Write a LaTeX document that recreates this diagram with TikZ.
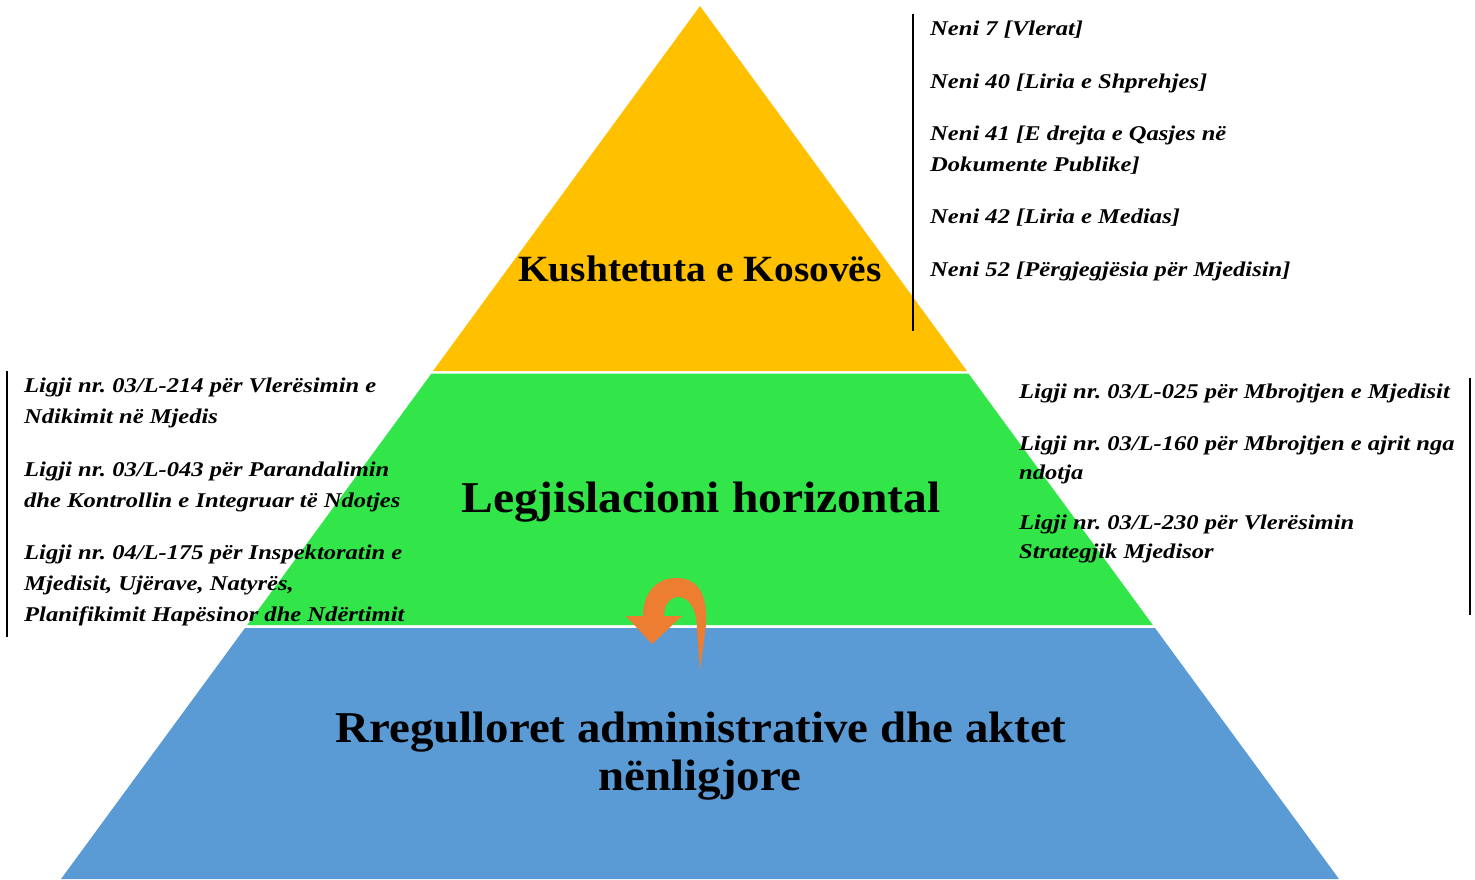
\documentclass[tikz,border=0pt]{standalone}
\usepackage{fontspec}
\setmainfont{Liberation Serif}
\newfontfamily\lawfont[FakeStretch=1.17]{Liberation Serif}
\newfontfamily\titlefont[FakeStretch=1.065]{Liberation Serif}
\newfontfamily\titlefontb[FakeStretch=1.08]{Liberation Serif}
\definecolor{pyryellow}{RGB}{255,192,0}
\definecolor{pyrgreen}{RGB}{50,230,74}
\definecolor{pyrblue}{RGB}{91,155,213}
\definecolor{pyrorange}{RGB}{237,125,49}
\frenchspacing
\begin{document}
\begin{tikzpicture}[x=1pt,y=-1pt,
  lawtext/.style={anchor=base west,inner sep=0pt,font=\lawfont\fontsize{21}{26}\selectfont\bfseries\itshape},
  title/.style={anchor=base,inner sep=0pt},
  barline/.style={line width=1.6pt,black}]
\useasboundingbox (0,0) rectangle (1475,879);
\fill[white] (0,0) rectangle (1475,879);
% pyramid layers
\fill[pyryellow] (700,6) -- (967,371) -- (433,371) -- cycle;
\fill[pyrgreen] (431.5,373.5) -- (968.5,373.5) -- (1152.8,625) -- (247.2,625) -- cycle;
\fill[pyrblue] (245,628) -- (1155,628) -- (1339,879) -- (61,879) -- cycle;
% titles
\node[title,font=\titlefont\fontsize{37}{44}\selectfont\bfseries] (t1) at (700,281) {Kushtetuta e Kosovës};
\node[title,font=\titlefontb\fontsize{44}{48}\selectfont\bfseries] (t2) at (701,512) {Legjislacioni horizontal};
\node[title,font=\titlefont\fontsize{44}{48}\selectfont\bfseries] (t3a) at (701,742) {Rregulloret administrative dhe aktet};
\node[title,font=\titlefont\fontsize{44}{48}\selectfont\bfseries] (t3b) at (700,790) {nënligjore};
% U-turn arrow
\fill[pyrorange] (700,670) -- (706,625) .. controls (708,590) and (695,578) .. (676,578)
  .. controls (655,578) and (643,595) .. (643,616) -- (626,616) -- (652,644) -- (682,616)
  -- (664,616) .. controls (664,605) and (670,597) .. (678,597)
  .. controls (690,597) and (697,610) .. (697,630) -- cycle;
% top list
\coordinate (ta) at (913,14); \coordinate (tb) at (913,331);
\draw[barline] (ta) -- (tb);
\node[lawtext] (n1) at (930,35) {Neni 7 [Vlerat]};
\node[lawtext] (n2) at (930,88) {Neni 40 [Liria e Shprehjes]};
\node[lawtext] (n3a) at (930,140) {Neni 41 [E drejta e Qasjes në};
\node[lawtext] (n3b) at (930,171) {Dokumente Publike]};
\node[lawtext] (n4) at (930,223) {Neni 42 [Liria e Medias]};
\node[lawtext] (n5) at (930,276) {Neni 52 [Përgjegjësia për Mjedisin]};
% left list
\coordinate (la) at (7,371); \coordinate (lb) at (7,637);
\draw[barline] (la) -- (lb);
\node[lawtext] (l1a) at (24,392) {Ligji nr. 03/L-214 për Vlerësimin e};
\node[lawtext] (l1b) at (24,423) {Ndikimit në Mjedis};
\node[lawtext] (l2a) at (24,476) {Ligji nr. 03/L-043 për Parandalimin};
\node[lawtext] (l2b) at (24,507) {dhe Kontrollin e Integruar të Ndotjes};
\node[lawtext] (l3a) at (24,559) {Ligji nr. 04/L-175 për Inspektoratin e};
\node[lawtext] (l3b) at (24,590) {Mjedisit, Ujërave, Natyrës,};
\node[lawtext] (l3c) at (24,621) {Planifikimit Hapësinor dhe Ndërtimit};
% right list
\coordinate (ra) at (1470,378); \coordinate (rb) at (1470,615);
\draw[barline] (ra) -- (rb);
\node[lawtext] (r1) at (1019,398) {Ligji nr. 03/L-025 për Mbrojtjen e Mjedisit};
\node[lawtext] (r2a) at (1019,450) {Ligji nr. 03/L-160 për Mbrojtjen e ajrit nga};
\node[lawtext] (r2b) at (1019,479) {ndotja};
\node[lawtext] (r3a) at (1019,529) {Ligji nr. 03/L-230 për Vlerësimin};
\node[lawtext] (r3b) at (1019,558) {Strategjik Mjedisor};
\end{tikzpicture}
\end{document}
